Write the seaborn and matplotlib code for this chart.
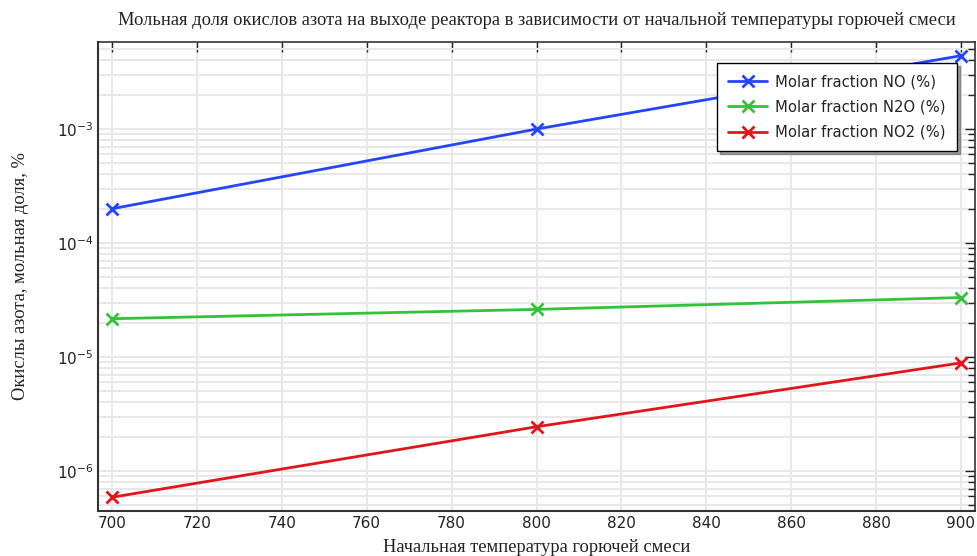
import matplotlib
matplotlib.use("Agg")
import matplotlib.pyplot as plt
import seaborn as sns
import pandas as pd
import numpy as np
from matplotlib.ticker import LogLocator, NullFormatter, MultipleLocator

temps = [700, 800, 900]
no_vals = [2.0e-4, 1.0e-3, 4.4e-3]
n2o_vals = [2.17e-5, 2.62e-5, 3.33e-5]
no2_vals = [5.9e-7, 2.45e-6, 8.9e-6]
series_names = ["Molar fraction NO (%)", "Molar fraction N2O (%)", "Molar fraction NO2 (%)"]
colors = ["#2445ff", "#33c23a", "#e0161a"]

title = "Мольная доля окислов азота на выходе реактора в зависимости от начальной температуры горючей смеси"
xlabel = "Начальная температура горючей смеси"
ylabel = "Окислы азота, мольная доля, %"

df = pd.DataFrame({
    "T": temps * 3,
    "v": no_vals + n2o_vals + no2_vals,
    "s": [series_names[0]] * 3 + [series_names[1]] * 3 + [series_names[2]] * 3,
})

sns.set_style("white")
plt.rcParams["font.family"] = ["DejaVu Sans"]

fig = plt.figure(figsize=(9.78, 5.56), dpi=100)
ax = fig.add_axes([98 / 978, 1 - 511 / 556, (975 - 98) / 978, (511 - 42) / 556])

sns.lineplot(data=df, x="T", y="v", hue="s", palette=colors, marker="x",
             markersize=8.5, markeredgewidth=2, linewidth=2, ax=ax, legend=False)
for ln in ax.lines:
    ln.set_markeredgecolor(ln.get_color())
    ln.set_markerfacecolor(ln.get_color())

ax.set_yscale("log")
ax.set_xlim(696.7, 903.3)
ax.set_ylim(4.47e-7, 5.8e-3)
ax.xaxis.set_major_locator(MultipleLocator(20))
ax.yaxis.set_major_locator(LogLocator(base=10, numticks=20))
ax.yaxis.set_minor_locator(LogLocator(base=10, subs=np.arange(2, 10), numticks=20))
ax.yaxis.set_minor_formatter(NullFormatter())

ax.grid(True, which="major", color="#e8e8e8", linewidth=1.5)
ax.grid(True, which="minor", axis="y", color="#e8e8e8", linewidth=1.5)
ax.set_axisbelow(True)

ax.tick_params(which="both", direction="in", top=True, right=True, labelsize=11, colors="#222222")
ax.tick_params(which="major", length=7, width=1)
ax.tick_params(which="minor", length=5, width=1)
for sp in ax.spines.values():
    sp.set_color("#333333")
    sp.set_linewidth(1.2)
ax.spines["left"].set_linewidth(1.5)
ax.spines["bottom"].set_linewidth(1.5)

serif = ["Liberation Serif", "DejaVu Serif"]
ax.set_title(title, fontsize=13.3, family=serif, pad=12, color="#222222")
ax.set_xlabel(xlabel, fontsize=13.3, family=serif, color="#222222", labelpad=6)
ax.set_ylabel(ylabel, fontsize=13.3, family=serif, color="#222222", labelpad=20)

handles = ax.lines[:3]
leg = ax.legend(handles, series_names, loc="upper right", bbox_to_anchor=(0.9795, 0.955),
                borderaxespad=0.0, frameon=True, fancybox=False, shadow=True, edgecolor="black",
                fontsize=10.6, handlelength=2.6, borderpad=0.75, labelspacing=0.7,
                handletextpad=0.6)
leg.get_frame().set_linewidth(1.0)
for t in leg.get_texts():
    t.set_color("#222222")

fig.savefig("out.png", dpi=100)
